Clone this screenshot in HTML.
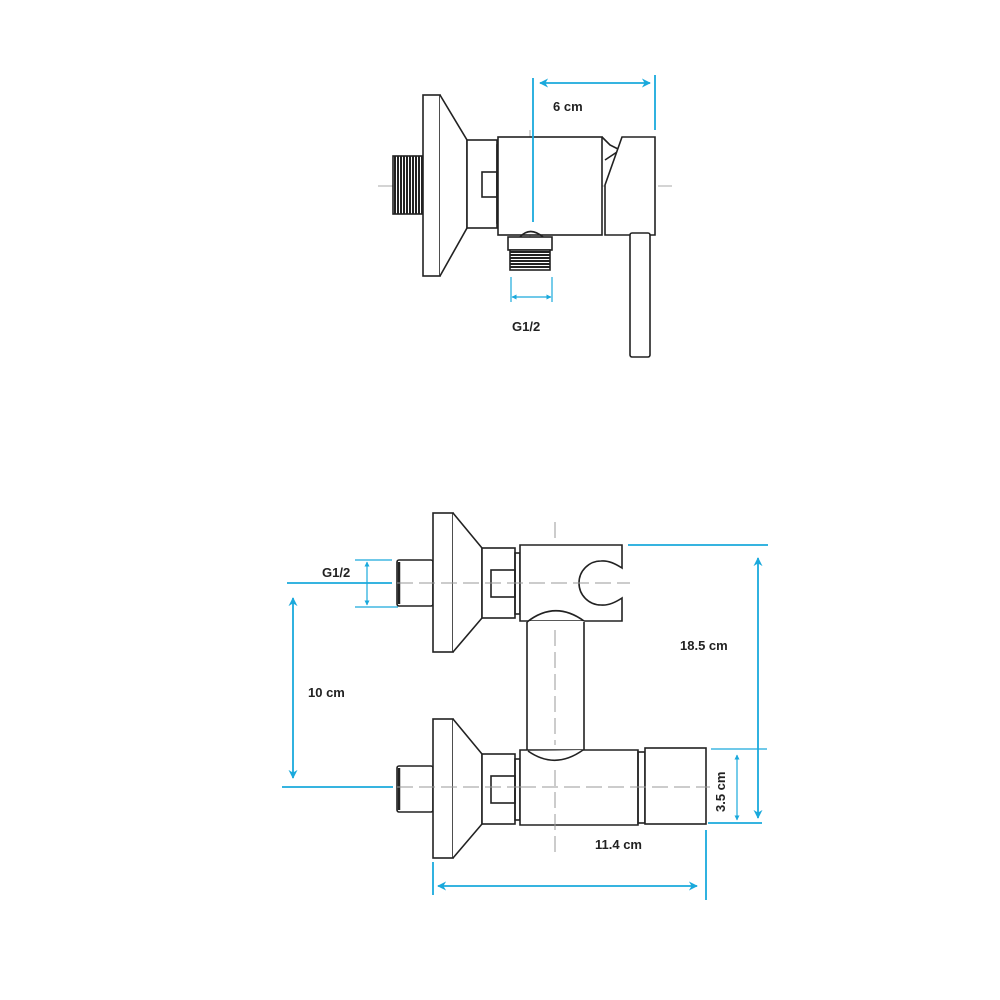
<!DOCTYPE html>
<html><head><meta charset="utf-8"><style>
html,body{margin:0;padding:0;background:#fff}
svg{display:block}
text{font-family:"Liberation Sans",sans-serif;font-weight:bold;font-size:13px;fill:#222}
</style></head><body>
<svg width="1000" height="1000" viewBox="0 0 1000 1000" xmlns="http://www.w3.org/2000/svg">
<defs>
<marker id="a" viewBox="0 0 10 10" refX="9" refY="5" markerWidth="9" markerHeight="9" orient="auto-start-reverse" markerUnits="userSpaceOnUse"><path d="M0,0 L10,5 L0,10 L3,5z" fill="#1aa9dc"/></marker>
<marker id="s" viewBox="0 0 10 10" refX="9" refY="5" markerWidth="5" markerHeight="5" orient="auto-start-reverse" markerUnits="userSpaceOnUse"><path d="M0,0 L10,5 L0,10z" fill="#1aa9dc"/></marker>
</defs>
<!-- TOP DRAWING -->
<g stroke="#aaa" stroke-width="1" fill="none">
<line x1="378" y1="186" x2="672" y2="186" stroke-dasharray="22,6"/>
<line x1="530" y1="130" x2="530" y2="270" stroke-dasharray="18,6"/>
</g>
<g stroke="#222" stroke-width="1.6" fill="none">
<rect x="393" y="156" width="30" height="58" fill="#fff"/>
<path d="M395,156v58M398,156v58M401,156v58M404,156v58M407,156v58M410,156v58M413,156v58M416,156v58M419,156v58M422,156v58" stroke-width="2"/>
<rect x="423" y="95" width="17" height="181" fill="#fff"/>
<path d="M440,95 L467,140 L467,228 L440,276" fill="#fff"/>
<rect x="467" y="140" width="30" height="88" fill="#fff"/>
<rect x="482" y="172" width="15" height="25"/>
<rect x="497" y="145" width="2" height="78"/>
<rect x="498" y="137" width="104" height="98" fill="#fff"/>
<path d="M602,137 L610,145 L620,150 L605,160"/>
<path d="M605,235 L605,185 L622,137 L655,137 L655,235 Z" fill="#fff"/>
<rect x="630" y="233" width="20" height="124" rx="2" fill="#fff"/>
<path d="M520,237 Q530,226 543,237"/>
<rect x="508" y="237" width="44" height="13" fill="#fff"/>
<rect x="510" y="250" width="40" height="20" fill="#fff"/>
<path d="M510,252h40M510,255h40M510,258h40M510,261h40M510,264h40M510,267h40" stroke-width="2"/>
</g>
<g stroke="#1aa9dc" stroke-width="1.8" fill="none">
<line x1="533" y1="78" x2="533" y2="222"/>
<line x1="655" y1="75" x2="655" y2="130"/>
<line x1="540" y1="83" x2="650" y2="83" marker-start="url(#a)" marker-end="url(#a)"/>
<line x1="511" y1="277" x2="511" y2="302" stroke-width="1.2"/>
<line x1="552" y1="277" x2="552" y2="302" stroke-width="1.2"/>
<line x1="512" y1="297" x2="551" y2="297" stroke-width="1.2" marker-start="url(#s)" marker-end="url(#s)"/>
</g>
<text x="553" y="111">6 cm</text>
<text x="512" y="331">G1/2</text>

<!-- BOTTOM DRAWING -->
<g stroke="#222" stroke-width="1.6" fill="none">
<g id="u">
<rect x="397" y="560" width="36" height="46" rx="2" fill="#fff"/>
<line x1="399" y1="562" x2="399" y2="604" stroke-width="2.5"/>
<rect x="433" y="513" width="20" height="139" fill="#fff"/>
<path d="M453,513 L482,548 L482,618 L453,652" fill="#fff"/>
<rect x="482" y="548" width="33" height="70" fill="#fff"/>
<rect x="491" y="570" width="24" height="27"/>
<rect x="515" y="553" width="5" height="61"/>
</g>
<use href="#u" transform="translate(0,206)"/>
<path d="M520,545 L622,545 L622,568 Q610,560 601,561 A22,22 0 0 0 601,605 Q610,606 622,598 L622,621 L520,621 Z" fill="#fff"/>
<rect x="527" y="621" width="57" height="130" fill="#fff" stroke="none"/>
<path d="M527,622 L527,750 M584,622 L584,750"/>
<path d="M527,622 Q555,600 584,621"/>
<path d="M520,750 L638,750 L638,825 L520,825 Z" fill="#fff"/>
<path d="M528,751 Q555,770 583,750" fill="#fff"/>
<rect x="638" y="752" width="7" height="71"/>
<rect x="645" y="748" width="61" height="76" fill="#fff"/>
</g>
<g stroke="#999" stroke-width="1" fill="none" stroke-dasharray="16,6">
<line x1="555" y1="522" x2="555" y2="540"/>
<line x1="555" y1="630" x2="555" y2="745"/>
<line x1="555" y1="770" x2="555" y2="858"/>
<line x1="520" y1="787" x2="710" y2="787"/>
<line x1="397" y1="583" x2="630" y2="583"/>
<line x1="397" y1="787" x2="520" y2="787"/>
</g>
<g stroke="#1aa9dc" stroke-width="1.8" fill="none">
<line x1="287" y1="583" x2="392" y2="583"/>
<line x1="355" y1="560" x2="392" y2="560" stroke-width="1.2"/>
<line x1="355" y1="607" x2="398" y2="607" stroke-width="1.2"/>
<line x1="367" y1="562" x2="367" y2="605" stroke-width="1.2" marker-start="url(#s)" marker-end="url(#s)"/>
<line x1="293" y1="598" x2="293" y2="778" marker-start="url(#a)" marker-end="url(#a)"/>
<line x1="282" y1="787" x2="393" y2="787"/>
<line x1="628" y1="545" x2="768" y2="545"/>
<line x1="708" y1="823" x2="762" y2="823"/>
<line x1="758" y1="558" x2="758" y2="818" marker-start="url(#a)" marker-end="url(#a)"/>
<line x1="711" y1="749" x2="767" y2="749" stroke-width="1.2"/>
<line x1="737" y1="755" x2="737" y2="820" stroke-width="1.2" marker-start="url(#s)" marker-end="url(#s)"/>
<line x1="433" y1="862" x2="433" y2="895"/>
<line x1="706" y1="830" x2="706" y2="900"/>
<line x1="438" y1="886" x2="697" y2="886" marker-start="url(#a)" marker-end="url(#a)"/>
</g>
<text x="322" y="577">G1/2</text>
<text x="308" y="697">10 cm</text>
<text x="680" y="650">18.5 cm</text>
<text x="595" y="849">11.4 cm</text>
<text transform="translate(725,812) rotate(-90)">3.5 cm</text>
</svg>
</body></html>
